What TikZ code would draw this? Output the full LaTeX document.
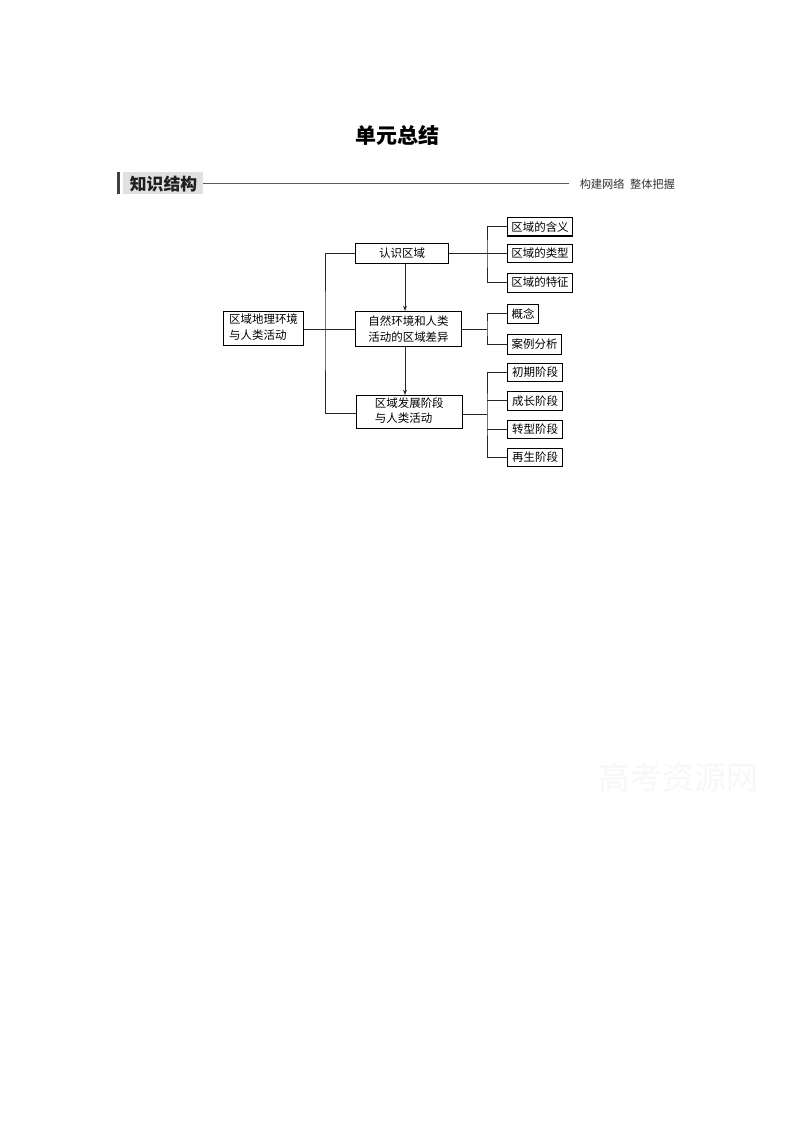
\documentclass[tikz,border=0pt]{standalone}
\usepackage{fontspec}
\setmainfont{Noto Sans CJK SC}
\usetikzlibrary{arrows.meta,calc}
\tikzset{
  x=0.75pt,y=-0.75pt,
  conn/.style={draw=black!85,line width=0.75pt},
  arr/.style={conn,-{Stealth[length=4pt,width=3pt]}},
  bx/.style={draw=black,line width=0.8pt,inner sep=0pt,align=center,font=\fontsize{8.6}{11.6}\selectfont},
}
\newcommand{\boxat}[6]{\node[bx,minimum width=#4*0.75pt-#2*0.75pt,minimum height=#5*0.75pt-#3*0.75pt,anchor=north west] (#1) at (#2,#3) {#6};}
\newcommand{\lefttwo}[2]{\raisebox{-0.8pt}{\begin{tabular}{@{}l@{}}#1\\#2\end{tabular}}}
\begin{document}
\begin{tikzpicture}
\useasboundingbox (0,0) rectangle (794,1123);
\fill[white] (0,0) rectangle (794,1123);
% title
\node[font=\fontsize{15.75}{18}\selectfont\bfseries] (title) at (397.5,135) {单元总结};
% watermark
\node[font=\fontsize{24}{28}\selectfont,text=black!3] (wm) at (678,777) {高考资源网};
% header
\fill[black!12] (123,172.5) rectangle (203,194.5);
\fill[black!75] (117,172.5) rectangle (119.5,194.5);
\node[font=\fontsize{12.6}{15}\selectfont\bfseries,text=black!88] (head) at (163.5,184) {知识结构};
\node[font=\fontsize{8.4}{10}\selectfont,text=black!80,anchor=west,inner sep=0pt] (sub) at (579.5,184) {构建网络\hspace{0.5em}整体把握};
\coordinate (hl) at (203,183);
\coordinate (hr) at (569,183);
\draw[black!65,line width=0.7pt] (hl) -- (hr);
% main nodes
\boxat{root}{223}{310.5}{303}{345}{\lefttwo{区域地理环境}{与人类活动}}
\boxat{a}{355}{243}{448}{262.5}{\raisebox{-0.7pt}{认识区域}}
\boxat{b}{355}{311}{461}{346}{自然环境和人类\\活动的区域差异}
\boxat{c}{355.5}{395}{462}{428}{\lefttwo{区域发展阶段}{与人类活动}}
% leaves
\boxat{a1}{507}{217}{572}{235.5}{区域的含义}
\boxat{a2}{507}{243.5}{572}{262}{区域的类型}
\boxat{a3}{507}{272.5}{572}{291.5}{区域的特征}
\boxat{b1}{507}{303.5}{538}{323}{概念}
\boxat{b2}{507}{334}{561}{353.5}{案例分析}
\boxat{c1}{507}{363}{562}{381}{初期阶段}
\boxat{c2}{507}{391}{562}{409.5}{成长阶段}
\boxat{c3}{507}{419.5}{562}{438}{转型阶段}
\boxat{c4}{507}{448}{562}{466}{再生阶段}
% helper coordinates
\coordinate (trunk) at (325,328);
\coordinate (ja) at (487,253);
\coordinate (jb) at (487,328);
\coordinate (jc) at (487,414);
\coordinate (jt) at (325,413);
\coordinate (ax) at (405,300);
% connectors
\draw[conn] (root.east |- b.west) -- (b.west);
\draw[conn] (a.west) -| (trunk) |- (c.west |- jt);
\draw[conn] (a.east) -- (a.east -| a2.west);
\draw[conn] (a1.west) -| (ja) |- (a3.west);
\draw[conn] (b.east) -- (b.east -| jb);
\draw[conn] (b1.west) -| (jb) |- (b2.west);
\draw[conn] (c.east |- jc) -- (jc);
\draw[conn] (c1.west) -| (jc) |- (c4.west);
\draw[conn] (jc |- c2.west) -- (c2.west);
\draw[conn] (jc |- c3.west) -- (c3.west);
\draw[arr] (ax |- a.south) -- (ax |- b.north);
\draw[arr] (ax |- b.south) -- (ax |- c.north);
\end{tikzpicture}
\end{document}
